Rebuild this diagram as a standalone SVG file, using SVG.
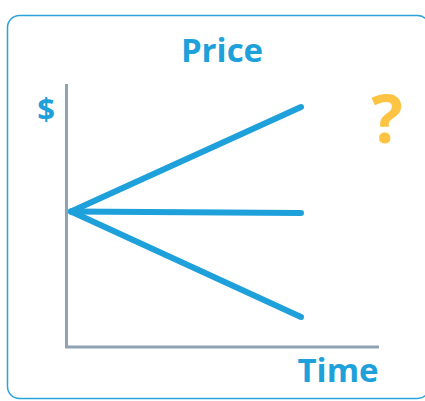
<svg xmlns="http://www.w3.org/2000/svg" width="425" height="401" viewBox="0 0 425 401">
<style>
.lbl{font-family:"Open Sans","Liberation Sans",sans-serif;font-weight:bold;fill:#1ea0db}
.trend{stroke:#1ea0db;stroke-width:6;stroke-linecap:round;fill:none}
.axis{stroke:#8fa3b4;stroke-width:3;fill:none}
</style>
<rect x="7.5" y="15.5" width="422" height="383" rx="12" fill="#ffffff" stroke="#2aa3dc" stroke-width="1.5"/>
<g id="title"><text class="lbl" x="222" y="61.5" font-size="33" text-anchor="middle">Price</text></g>
<g id="ylabel"><text class="lbl" x="46" y="120" font-size="31" text-anchor="middle">$</text></g>
<g id="xlabel"><text class="lbl" x="338" y="382" font-size="33" text-anchor="middle">Time</text></g>
<g id="question"><text x="387" y="143" font-size="66" text-anchor="middle" font-family="Open Sans, Liberation Sans, sans-serif" font-weight="bold" fill="#fdc444">?</text></g>
<g id="axes">
<polyline class="axis" points="66.5,84 66.5,347 379,347"/>
</g>
<g id="connectors">
<line class="trend" x1="71" y1="211.5" x2="301" y2="107"/>
<line class="trend" x1="71" y1="211.5" x2="301" y2="213"/>
<line class="trend" x1="71" y1="211.5" x2="301" y2="317"/>
</g>
</svg>
